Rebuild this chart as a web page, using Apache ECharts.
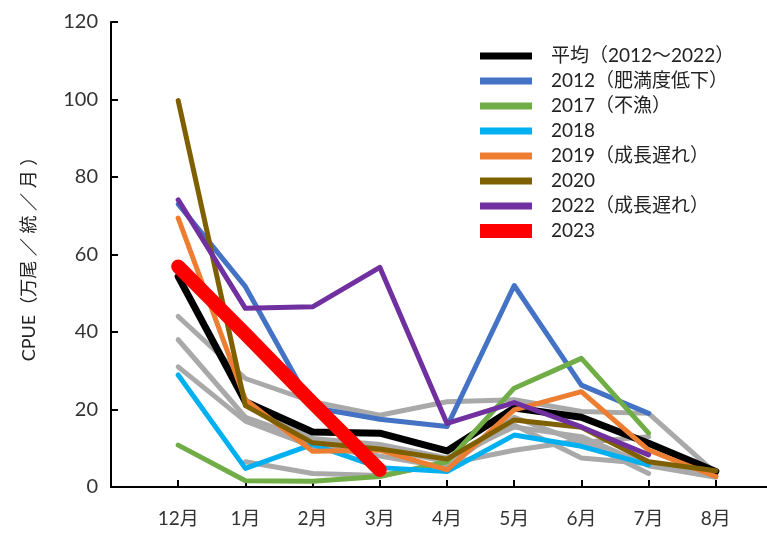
<!DOCTYPE html>
<html>
<head>
<meta charset="utf-8">
<script src="https://cdn.jsdelivr.net/npm/echarts@6/dist/echarts.min.js"></script>
<style>
  html, body { margin: 0; padding: 0; background: #fff; }
  #chart { width: 767px; height: 533px; }
</style>
</head>
<body>
<div id="chart"></div>
<script>
// months on the x axis
var months = ['12月', '1月', '2月', '3月', '4月', '5月', '6月', '7月', '8月'];

// highlighted years (CPUE, 万尾/統/月)
var avg     = [54.3, 22, 14.2, 13.9, 9.3, 20.4, 18, 11.3, 4];
var y2012   = [73, 51.7, 20.5, 17.5, 15.6, 52, 26.3, 19];
var y2017   = [10.8, 1.6, 1.5, 2.7, 6.5, 25.5, 33.2, 13.9];
var y2018   = [28.9, 4.8, 11, 5, 4, 13.4, 10.5, 5.7];
var y2019   = [69.4, 22.5, 9.2, 9.5, 4.4, 19.9, 24.6, 9.5, 2.7];
var y2020   = [99.7, 21, 11.4, 9.8, 7.2, 17.3, 15.4, 6.5, 4.2];
var y2022   = [74.1, 46.1, 46.5, 56.7, 16.4, 21.8, 15.5, 8.3];
var y2023   = [56.9, 39.5, 21.7, 4.4];

// other years drawn in grey (not in legend)
var grey1 = [44, 28, 22, 18.5, 22, 22.5, 19.5, 19, 3.5];
var grey2 = [38, 18, 12, 10, 6.5, 16, 7.5, 6, 3];
var grey3 = [31, 17, 10.5, 8, 5, 18, 11.5, 13];
var grey4 = [null, 6.5, 3.5, 3, 6, 9.5, 12, 3.5];
var grey5 = [null, 22, 12.5, 11, 7.5, 15.5, 13, 5.5, 2.5];

var yTicks = [0, 20, 40, 60, 80, 100, 120];

var fontMain = 'Lato, "Noto Sans CJK JP", sans-serif';

function pairs(vals) {
  var out = [];
  vals.forEach(function (v, i) { out.push([months[i], v]); });
  return out;
}

function lineSeries(name, vals, color, width) {
  return {
    name: name,
    type: 'line',
    data: pairs(vals),
    showSymbol: false,
    symbol: 'none',
    connectNulls: false,
    lineStyle: { color: color, width: width, cap: 'round', join: 'round' },
    itemStyle: { color: color },
    emphasis: { disabled: true },
    animation: false
  };
}

var greyColor = '#a9a9a9';
var series = [
  lineSeries('g1', grey1, greyColor, 5),
  lineSeries('g2', grey2, greyColor, 5),
  lineSeries('g3', grey3, greyColor, 5),
  lineSeries('g4', grey4, greyColor, 5),
  lineSeries('g5', grey5, greyColor, 5),
  lineSeries('平均（2012～2022）', avg, '#000000', 7),
  lineSeries('2012（肥満度低下）', y2012, '#4472c4', 5),
  lineSeries('2017（不漁）', y2017, '#70ad47', 5),
  lineSeries('2018', y2018, '#00b0f0', 5),
  lineSeries('2019（成長遅れ）', y2019, '#ed7d31', 5),
  lineSeries('2020', y2020, '#7f6000', 5),
  lineSeries('2022（成長遅れ）', y2022, '#7030a0', 5),
  lineSeries('2023', y2023, '#ff0000', 14)
];

var legendNames = ['平均（2012～2022）', '2012（肥満度低下）', '2017（不漁）', '2018',
  '2019（成長遅れ）', '2020', '2022（成長遅れ）', '2023'];

// thin bar inside a taller box, so the 2023 key can be thicker
var thinIcon = 'path://M0,0L0.01,0M0,3.5L52,3.5L52,10.5L0,10.5ZM0,14L0.01,14';
var legendData = legendNames.map(function (n) {
  return n === '2023' ? { name: n, icon: 'rect' } : { name: n, icon: thinIcon };
});

var chart = echarts.init(document.getElementById('chart'), null, { renderer: 'canvas' });
chart.setOption({
  backgroundColor: '#ffffff',
  animation: false,
  grid: { left: 111, top: 22, width: 672, bottom: 46, outerBoundsMode: 'none', containLabel: false },
  legend: {
    orient: 'vertical',
    left: 475,
    top: 41,
    data: legendData,
    itemWidth: 52,
    itemHeight: 14,
    itemGap: 5,
    selectedMode: false,
    itemStyle: { borderWidth: 0 },
    textStyle: { fontFamily: fontMain, fontSize: 19, color: '#222', lineHeight: 20, padding: [0, 0, 0, 14] }
  },
  xAxis: {
    type: 'category',
    boundaryGap: false,
    data: [' '].concat(months, ['  ']),
    axisLine: { lineStyle: { color: '#000', width: 2 } },
    axisTick: { inside: true, length: 7, lineStyle: { color: '#000', width: 2 } },
    axisLabel: { fontFamily: fontMain, fontSize: 19, color: '#333', margin: 22 },
    splitLine: { show: false }
  },
  yAxis: {
    type: 'value',
    min: yTicks[0],
    max: yTicks[yTicks.length - 1],
    interval: 20,
    name: 'CPUE（万尾 ／ 統 ／ 月 ）',
    nameLocation: 'middle',
    nameGap: 73,
    nameTextStyle: { fontFamily: fontMain, fontSize: 18, color: '#222' },
    axisLine: { show: true, lineStyle: { color: '#000', width: 2 } },
    axisTick: { show: true, inside: true, length: 7, lineStyle: { color: '#000', width: 2 } },
    axisLabel: { fontFamily: fontMain, fontSize: 20, color: '#333', margin: 13 },
    splitLine: { show: false }
  },
  series: series
});
</script>
</body>
</html>
